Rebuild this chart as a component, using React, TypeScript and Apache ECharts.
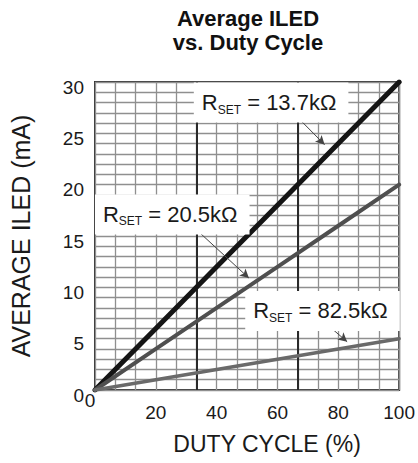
import React, { useEffect, useRef } from "react";
import * as echarts from "echarts";

const DUTY_CYCLE = [0, 20, 40, 60, 80, 100];
const ILED_13_7K = [0, 6, 12, 18, 24, 30];
const ILED_20_5K = [0, 4, 8, 12, 16, 20];
const ILED_82_5K = [0, 1, 2, 3, 4, 5];
const RSET_LABELS = ["13.7kΩ", "20.5kΩ", "82.5kΩ"];
const LINE_COLORS = ["#151515", "#4f4f4f", "#6a6a6a"];
const LINE_WIDTHS = [5, 4, 3.5];

// annotation anchors in data coordinates (duty %, mA)
const LABEL_ANCHORS = [
  [57.9, 28.0],
  [25.4, 17.1],
  [74.8, 7.7],
];
const ARROW_FROM = [
  [66.8, 26.5],
  [34.5, 15.3],
  [77.4, 6.1],
];
const ARROW_TO = [
  [75.5, 23.9],
  [50.6, 10.9],
  [82.9, 4.7],
];

const X_MIN = 0;
const X_MAX = 100;
const X_LABEL_STEP = 20;
const X_GRID_DIVS = 15;
const X_MAJOR_DIVS = 3;
const Y_MIN = 0;
const Y_MAX = 30;
const Y_LABEL_STEP = 5;
const Y_GRID_STEP = 1;

const FONT = "'Liberation Sans', Arial, Helvetica, sans-serif";

export default function App() {
  const ref = useRef<HTMLDivElement>(null);
  useEffect(() => {
    document.body.style.margin = "0";
    const el = ref.current!;
    const chart = echarts.init(el, null, { renderer: "svg" });
    const seriesData = [ILED_13_7K, ILED_20_5K, ILED_82_5K];
    const gridLeft = 93, gridRight = 15, gridTop = 82, gridBottom = 73;
    const option: any = {
      animation: false,
      backgroundColor: "#fff",
      grid: {
        left: gridLeft,
        right: gridRight,
        top: gridTop,
        bottom: gridBottom,
        show: true,
        borderColor: "#333",
        borderWidth: 2,
      },
      xAxis: [
        {
          type: "value",
          min: X_MIN,
          max: X_MAX,
          interval: X_LABEL_STEP,
          axisLine: { show: false },
          axisTick: { show: false },
          splitLine: { show: false },
          axisLabel: {
            margin: 13,
            fontSize: 19,
            color: "#1a1a1a",
            fontFamily: FONT,
            formatter: (v: number) => (v === 0 ? "" : String(v)),
          },
          name: "DUTY CYCLE (%)",
          nameLocation: "middle",
          nameGap: 42,
          nameTextStyle: {
            fontSize: 23,
            color: "#1a1a1a",
            fontFamily: FONT,
            padding: [0, 0, 0, 40],
          },
        },
        {
          type: "value",
          min: X_MIN,
          max: X_MAX,
          interval: (X_MAX - X_MIN) / X_GRID_DIVS,
          axisLine: { show: false },
          axisTick: { show: false },
          axisLabel: { show: false },
          splitLine: { show: true, lineStyle: { color: "#8f8f8f", width: 1.3 } },
        },
        {
          type: "value",
          min: X_MIN,
          max: X_MAX,
          interval: (X_MAX - X_MIN) / X_MAJOR_DIVS,
          axisLine: { show: false },
          axisTick: { show: false },
          axisLabel: { show: false },
          splitLine: {
            show: true,
            showMinLine: false,
            showMaxLine: false,
            lineStyle: { color: "#2a2a2a", width: 2 },
          },
        },
      ],
      yAxis: [
        {
          type: "value",
          min: Y_MIN,
          max: Y_MAX,
          interval: Y_LABEL_STEP,
          axisLine: { show: false },
          axisTick: { show: false },
          splitLine: { show: false },
          axisLabel: {
            margin: 11,
            fontSize: 19,
            color: "#1a1a1a",
            fontFamily: FONT,
            verticalAlign: "top",
            lineHeight: 10,
          },
          name: "AVERAGE ILED (mA)",
          nameLocation: "middle",
          nameGap: 62,
          nameRotate: 90,
          nameTextStyle: { fontSize: 25, color: "#1a1a1a", fontFamily: FONT },
        },
        {
          type: "value",
          min: Y_MIN,
          max: Y_MAX,
          interval: Y_GRID_STEP,
          axisLine: { show: false },
          axisTick: { show: false },
          axisLabel: { show: false },
          splitLine: { show: true, lineStyle: { color: "#8f8f8f", width: 1.3 } },
        },
      ],
      series: seriesData.map((vals, i) => ({
        type: "line",
        name: RSET_LABELS[i],
        xAxisIndex: 0,
        yAxisIndex: 0,
        data: DUTY_CYCLE.map((d, k) => [d, vals[k]]),
        showSymbol: false,
        symbol: "none",
        z: 4,
        lineStyle: { color: LINE_COLORS[i], width: LINE_WIDTHS[i], cap: "round" },
        markLine: {
          silent: true,
          symbol: ["none", "arrow"],
          symbolSize: [7, 9],
          label: { show: false },
          lineStyle: { color: "#444", width: 1, type: "solid" },
          emphasis: { disabled: true },
          data: [[{ coord: ARROW_FROM[i] }, { coord: ARROW_TO[i] }]],
        },
      })),
    };
    chart.setOption(option);

    const toPx = (p: number[]) =>
      chart.convertToPixel({ xAxisIndex: 0, yAxisIndex: 0 }, p) as number[];
    const origin = toPx([X_MIN, Y_MIN]);
    const graphics: any[] = [
      {
        type: "text",
        x: (gridLeft + (418 - gridRight)) / 2,
        y: 6,
        z: 20,
        style: {
          text: "Average ILED\nvs. Duty Cycle",
          align: "center",
          verticalAlign: "top",
          font: `bold 22px ${FONT}`,
          lineHeight: 24,
          fill: "#111",
        },
      },
      {
        type: "text",
        x: origin[0] - 5,
        y: origin[1] + 10,
        z: 20,
        style: {
          text: "0",
          align: "center",
          verticalAlign: "middle",
          font: `19px ${FONT}`,
          fill: "#1a1a1a",
        },
      },
    ];
    LABEL_ANCHORS.forEach((a, i) => {
      const p = toPx(a);
      graphics.push({
        type: "text",
        x: p[0],
        y: p[1],
        z: 10,
        style: {
          text: `{r|R}{s|SET}{r| = ${RSET_LABELS[i]}}`,
          align: "center",
          verticalAlign: "middle",
          backgroundColor: "#fff",
          padding: [7, 12, 7, 8],
          rich: {
            r: { fontSize: 22, fontFamily: FONT, fill: "#1a1a1a", lineHeight: 26, verticalAlign: "middle" },
            s: { fontSize: 12, fontFamily: FONT, fill: "#1a1a1a", lineHeight: 10, padding: [8, 0, 0, 0], verticalAlign: "bottom" },
          },
        },
      });
    });
    chart.setOption({ graphic: graphics });

    return () => chart.dispose();
  }, []);
  return <div ref={ref} style={{ width: 418, height: 463 }} />;
}
